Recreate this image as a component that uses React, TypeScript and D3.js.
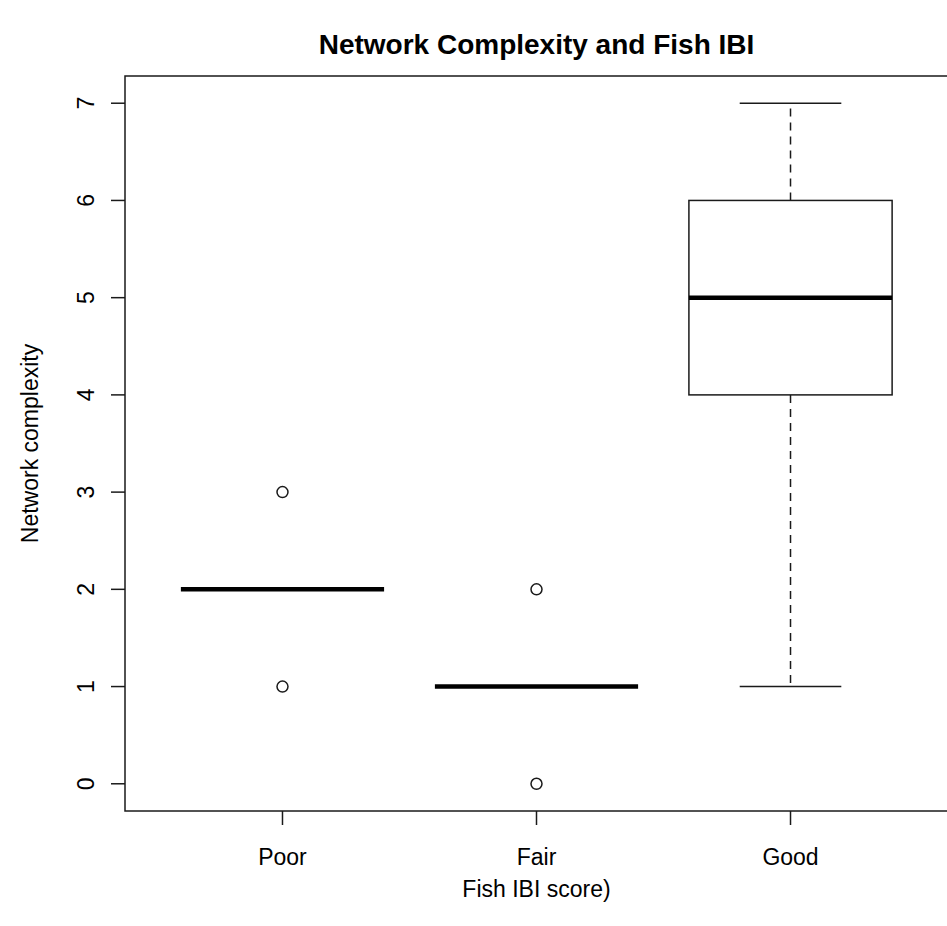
import React, { useEffect, useRef } from 'react'
import * as d3 from 'd3'

// box stats
const categories = ['Poor', 'Fair', 'Good']
const lowerWhisker = [2, 1, 1]
const q1 = [2, 1, 4]
const median = [2, 1, 5]
const q3 = [2, 1, 6]
const upperWhisker = [2, 1, 7]
const outliers = [[1, 3], [0, 2], []]
const yTicks = [0, 1, 2, 3, 4, 5, 6, 7]

const W = 947
const H = 926

export default function App () {
  const ref = useRef<SVGSVGElement>(null)

  useEffect(() => {
    const svg = d3.select(ref.current)
    svg.selectAll('*').remove()

    const left = 125
    const right = 948
    const top = 76
    const bottom = 811

    // R pads the ranges by 4%
    const x = d3.scaleLinear().domain([0.38, 3.62]).range([left, right])
    const y = d3.scaleLinear().domain([-0.28, 7.28]).range([bottom, top])

    const font = 'Liberation Sans, Arial, sans-serif'
    const line = '#1a1a1a'

    const boxes = categories.map((c, i) => ({
      name: c,
      pos: i + 1,
      lo: lowerWhisker[i],
      q1: q1[i],
      med: median[i],
      q3: q3[i],
      hi: upperWhisker[i],
      out: outliers[i]
    }))

    const boxHalf = 0.4
    const stapleHalf = 0.2

    const g = svg.append('g')

    boxes.forEach((b) => {
      const bg = g.append('g')
      // whiskers (dashed)
      bg.append('line')
        .attr('x1', x(b.pos)).attr('x2', x(b.pos))
        .attr('y1', y(b.q3)).attr('y2', y(b.hi))
        .attr('stroke', line).attr('stroke-width', 1.5)
        .attr('stroke-dasharray', '8,6')
      bg.append('line')
        .attr('x1', x(b.pos)).attr('x2', x(b.pos))
        .attr('y1', y(b.q1)).attr('y2', y(b.lo))
        .attr('stroke', line).attr('stroke-width', 1.5)
        .attr('stroke-dasharray', '8,6')
      // staples
      ;[b.lo, b.hi].forEach((v) => {
        bg.append('line')
          .attr('x1', x(b.pos - stapleHalf)).attr('x2', x(b.pos + stapleHalf))
          .attr('y1', y(v)).attr('y2', y(v))
          .attr('stroke', line).attr('stroke-width', 1.5)
      })
      // box
      bg.append('rect')
        .attr('x', x(b.pos - boxHalf))
        .attr('y', y(b.q3))
        .attr('width', x(b.pos + boxHalf) - x(b.pos - boxHalf))
        .attr('height', y(b.q1) - y(b.q3))
        .attr('fill', 'none')
        .attr('stroke', line).attr('stroke-width', 1.5)
      // median
      bg.append('line')
        .attr('x1', x(b.pos - boxHalf)).attr('x2', x(b.pos + boxHalf))
        .attr('y1', y(b.med)).attr('y2', y(b.med))
        .attr('stroke', '#000').attr('stroke-width', 4.5)
      // outliers
      bg.selectAll('circle')
        .data(b.out)
        .enter()
        .append('circle')
        .attr('cx', x(b.pos))
        .attr('cy', (d) => y(d))
        .attr('r', 5.5)
        .attr('fill', 'none')
        .attr('stroke', line).attr('stroke-width', 1.5)
    })

    // plot frame
    svg.append('rect')
      .attr('x', left).attr('y', top)
      .attr('width', right - left).attr('height', bottom - top)
      .attr('fill', 'none')
      .attr('stroke', line).attr('stroke-width', 1.5)

    // y axis
    const yAxis = svg.append('g')
    yAxis.selectAll('line')
      .data(yTicks)
      .enter()
      .append('line')
      .attr('x1', left - 14).attr('x2', left)
      .attr('y1', (d) => y(d)).attr('y2', (d) => y(d))
      .attr('stroke', line).attr('stroke-width', 1.5)
    yAxis.selectAll('text')
      .data(yTicks)
      .enter()
      .append('text')
      .attr('transform', (d) => 'translate(94,' + y(d) + ') rotate(-90)')
      .attr('text-anchor', 'middle')
      .style('font-family', font)
      .style('font-size', '23px')
      .attr('fill', '#000')
      .text((d) => d)

    // x axis
    const xAxis = svg.append('g')
    xAxis.selectAll('line')
      .data(boxes)
      .enter()
      .append('line')
      .attr('x1', (d) => x(d.pos)).attr('x2', (d) => x(d.pos))
      .attr('y1', bottom).attr('y2', bottom + 14)
      .attr('stroke', line).attr('stroke-width', 1.5)
    xAxis.selectAll('text')
      .data(boxes)
      .enter()
      .append('text')
      .attr('x', (d) => x(d.pos))
      .attr('y', 865)
      .attr('text-anchor', 'middle')
      .style('font-family', font)
      .style('font-size', '23px')
      .attr('fill', '#000')
      .text((d) => d.name)

    // titles
    svg.append('text')
      .attr('x', (left + right) / 2)
      .attr('y', 54)
      .attr('text-anchor', 'middle')
      .style('font-family', font)
      .style('font-size', '28px')
      .style('font-weight', 'bold')
      .text('Network Complexity and Fish IBI')

    svg.append('text')
      .attr('x', (left + right) / 2)
      .attr('y', 897)
      .attr('text-anchor', 'middle')
      .style('font-family', font)
      .style('font-size', '23px')
      .text('Fish IBI score)')

    svg.append('text')
      .attr('transform', 'translate(38,' + (top + bottom) / 2 + ') rotate(-90)')
      .attr('text-anchor', 'middle')
      .style('font-family', font)
      .style('font-size', '23px')
      .text('Network complexity')
  }, [])

  return (
    <svg
      ref={ref}
      width={W}
      height={H}
      style={{ position: 'absolute', left: 0, top: 0, background: '#fff' }}
    />
  )
}
